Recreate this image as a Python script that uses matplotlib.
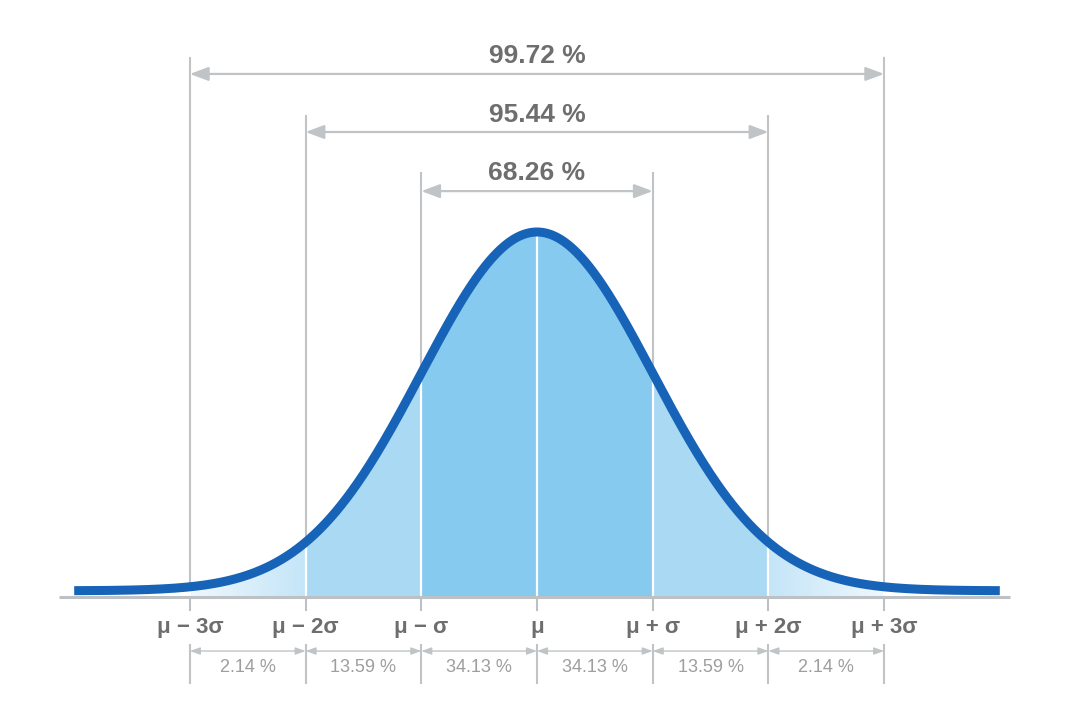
import numpy as np
import matplotlib
matplotlib.use("Agg")
import matplotlib.pyplot as plt
from matplotlib.colors import LinearSegmentedColormap

# ---- data ----
boundaries = [-3, -2, -1, 0, 1, 2, 3]              # in units of sigma
tick_labels = ["μ − 3σ", "μ − 2σ", "μ − σ", "μ", "μ + σ", "μ + 2σ", "μ + 3σ"]
band_pcts = ["2.14 %", "13.59 %", "34.13 %", "34.13 %", "13.59 %", "2.14 %"]
range_k = [1, 2, 3]
range_labels = ["68.26 %", "95.44 %", "99.72 %"]

# ---- style ----
CURVE = "#1763b8"
C_CENTER = "#86caef"
C_MID = "#a9d9f3"
C_TAIL_IN = "#c4e5f8"
C_TAIL_OUT = "#eff8fd"
GRAY_LINE = "#c0c4c6"
AXIS_GRAY = "#bdc1c3"
TXT_DARK = "#6e6e6e"
TXT_LIGHT = "#9e9e9e"
FONT = ["Liberation Sans", "DejaVu Sans"]

W, H, DPI = 1080, 717, 100
MU_PX, SIG_PX, BASE_PX, PEAK_PX = 537.0, 115.7, 597.0, 365.0

fig = plt.figure(figsize=(W / DPI, H / DPI), dpi=DPI)
ax = fig.add_axes([0, 0, 1, 1])
ax.set_xlim(-MU_PX / SIG_PX, (W - MU_PX) / SIG_PX)
ax.set_ylim(-(H - BASE_PX) / PEAK_PX, BASE_PX / PEAK_PX)
ax.axis("off")

def curve(x):
    c = 0.017
    return c + (1 - c) * np.exp(-0.5 * np.asarray(x) ** 2)

xs = np.linspace(-4, 4, 1200)
ys = curve(xs)

# fills
band_colors = [None, C_MID, C_CENTER, C_CENTER, C_MID, None]
for i in range(len(boundaries) - 1):
    a, b = boundaries[i], boundaries[i + 1]
    xx = np.linspace(a, b, 300)
    yy = curve(xx)
    if band_colors[i] is not None:
        ax.fill_between(xx, 0, yy, color=band_colors[i], lw=0, zorder=1)
    else:
        poly = ax.fill_between(xx, 0, yy, color="none", lw=0, zorder=1)
        if a < 0:
            cmap = LinearSegmentedColormap.from_list("t", [C_TAIL_OUT, C_TAIL_IN])
        else:
            cmap = LinearSegmentedColormap.from_list("t", [C_TAIL_IN, C_TAIL_OUT])
        grad = np.linspace(0, 1, 256).reshape(1, -1)
        im = ax.imshow(grad, cmap=cmap, extent=[a, b, 0, yy.max() + 0.01],
                       aspect="auto", zorder=1, interpolation="bilinear")
        im.set_clip_path(poly.get_paths()[0], transform=ax.transData)

# white separators inside fill
for bnd in boundaries:
    ax.plot([bnd, bnd], [0, curve(bnd)], color="white", lw=1.6, zorder=2)

# gray guide lines above curve
line_tops = {1: 1.162, 2: 1.318, 3: 1.477}
arrow_y = {1: 1.112, 2: 1.274, 3: 1.433}
text_y = {1: 1.162, 2: 1.321, 3: 1.483}
for k in range_k:
    for s in (-k, k):
        ax.plot([s, s], [curve(s), line_tops[k]], color=GRAY_LINE, lw=1.5, zorder=2)

# range arrows
for k, lab in zip(range_k, range_labels):
    ax.annotate("", xy=(k, arrow_y[k]), xytext=(-k, arrow_y[k]),
                arrowprops=dict(arrowstyle="<|-|>,head_length=0.8,head_width=0.3",
                                color=GRAY_LINE, lw=1.6, shrinkA=0, shrinkB=0,
                                mutation_scale=14), zorder=3)
    ax.text(0, text_y[k], lab, ha="center", va="center", fontsize=19,
            fontweight="bold", color=TXT_DARK, family=FONT, zorder=4)

# curve
ax.plot(xs, ys, color=CURVE, lw=6.5, solid_capstyle="butt", zorder=5)

# baseline axis
ax.plot([-4.13, 4.09], [0, 0], color=AXIS_GRAY, lw=2.2, zorder=4, solid_capstyle="butt")

# ticks, labels
for bnd, lab in zip(boundaries, tick_labels):
    ax.plot([bnd, bnd], [0, -0.036], color=AXIS_GRAY, lw=1.5, zorder=4)
    ax.text(bnd, -0.083, lab, ha="center", va="center", fontsize=16,
            fontweight="bold", color=TXT_DARK, family=FONT)
    ax.plot([bnd, bnd], [-0.132, -0.236], color=GRAY_LINE, lw=1.5, zorder=2)

# bottom band brackets
for i, pct in enumerate(band_pcts):
    a, b = boundaries[i], boundaries[i + 1]
    ax.annotate("", xy=(b, -0.148), xytext=(a, -0.148),
                arrowprops=dict(arrowstyle="<|-|>,head_length=0.5,head_width=0.18",
                                color=GRAY_LINE, lw=1.0, shrinkA=0, shrinkB=0,
                                mutation_scale=12), zorder=3)
    ax.text((a + b) / 2, -0.193, pct, ha="center", va="center", fontsize=13,
            color=TXT_LIGHT, family=FONT)

fig.savefig("out.png", dpi=DPI, facecolor="white")
